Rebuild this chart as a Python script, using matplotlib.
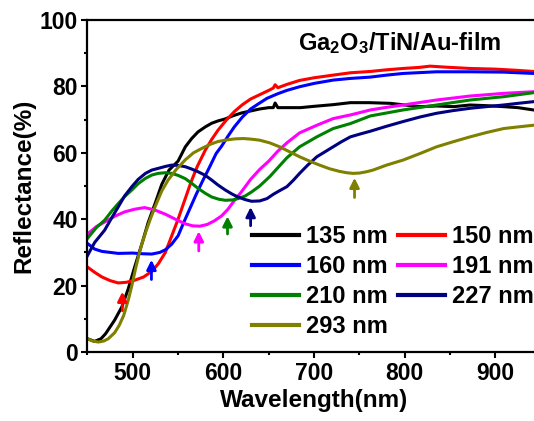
import matplotlib
matplotlib.use("Agg")
import matplotlib.pyplot as plt
from matplotlib.ticker import MultipleLocator

plt.rcParams['font.family'] = ['Liberation Sans', 'DejaVu Sans']
plt.rcParams['font.weight'] = 'bold'
plt.rcParams['mathtext.fontset'] = 'custom'
plt.rcParams['mathtext.rm'] = 'Liberation Sans:bold'
plt.rcParams['mathtext.bf'] = 'Liberation Sans:bold'
plt.rcParams['mathtext.default'] = 'bf'

# Reflectance spectra (wavelength in nm, reflectance in %)
wl_135 = [450, 458, 465, 470, 480, 488, 495, 502, 510, 517, 525, 532, 540, 550, 558, 565, 572, 580, 587, 594, 602, 611, 620, 630, 640, 650, 655, 657, 660, 670, 685, 700, 721, 740, 761, 784, 800, 817, 835, 854, 872, 890, 909, 925, 942, 950]
r_135 = [4, 3.2, 4, 5.5, 9.6, 13.6, 19, 25.5, 32.5, 39, 45, 50.5, 54.8, 57.5, 61.8, 64.3, 66.3, 67.8, 68.9, 69.6, 70.2, 71.2, 72, 72.6, 73.2, 73.6, 73.6, 75, 73.6, 73.6, 73.6, 74, 74.5, 75.1, 75.1, 74.9, 74.4, 73.9, 74.1, 73.9, 74.4, 74.2, 73.9, 73.6, 72.9, 72.9]

wl_150 = [450, 458, 466, 475, 484, 493, 502, 512, 521, 528, 536, 543, 550, 557, 564, 571, 580, 587, 594, 603, 612, 621, 630, 640, 650, 655, 657, 660, 670, 684, 700, 721, 740, 762, 780, 798, 815, 828, 845, 872, 900, 920, 942, 950]
r_150 = [25.6, 24, 22.6, 21.5, 20.8, 21, 21.6, 22.6, 24.3, 26.5, 30, 35, 40, 45.5, 51, 55.8, 60.8, 64, 66.8, 69.8, 72.4, 74.5, 76.2, 77.5, 78.8, 79.5, 80.5, 79.6, 80.6, 81.8, 82.6, 83.4, 84.1, 84.5, 85, 85.4, 85.7, 86.1, 85.8, 85.4, 85.2, 84.9, 84.5, 84.5]

wl_160 = [450, 458, 466, 484, 500, 510, 521, 530, 536, 543, 550, 557, 564, 570, 577, 584, 592, 598, 605, 612, 621, 630, 640, 648, 660, 670, 684, 700, 721, 740, 762, 780, 798, 835, 872, 909, 942, 950]
r_160 = [32.7, 31, 30.3, 29.7, 29.8, 29.6, 29.5, 30, 30.8, 32.5, 35, 39.5, 43.8, 47.5, 51.5, 55.3, 59.8, 62, 65, 67.8, 70.8, 73.2, 75, 76.4, 77.8, 78.8, 79.9, 80.9, 81.9, 82.4, 82.8, 83.4, 83.9, 84.4, 84.4, 84.3, 83.9, 83.9]

wl_191 = [450, 460, 470, 481, 491, 502, 513, 524, 536, 547, 558, 566, 574, 582, 590, 598, 605, 612, 620, 630, 640, 650, 660, 670, 684, 703, 721, 740, 762, 780, 798, 835, 872, 909, 942, 950]
r_191 = [35.5, 37.8, 39.3, 41, 42.2, 43, 43.5, 42.8, 41.5, 40, 38.6, 38, 37.9, 38.4, 39.5, 41, 43, 45.6, 48.3, 52, 55, 57.5, 60.5, 63, 66, 68.3, 70.3, 71.4, 72.9, 73.7, 74.4, 75.9, 77.1, 77.9, 78.4, 78.5]

wl_210 = [450, 460, 469, 477, 484, 491, 499, 506, 514, 521, 528, 536, 543, 550, 558, 565, 572, 580, 587, 595, 602, 610, 616, 624, 631, 640, 651, 660, 670, 684, 703, 721, 740, 762, 780, 798, 835, 872, 909, 942, 950]
r_210 = [34.2, 37.5, 39.7, 42.5, 44.7, 46.8, 48.8, 50.7, 52.3, 53.3, 53.8, 54, 53.8, 53.2, 52.2, 50.8, 49.3, 47.8, 46.7, 46, 45.7, 45.8, 46.2, 47, 48.2, 50, 52.8, 55.5, 58.5, 61.8, 64.8, 67.3, 68.8, 71.1, 72, 72.9, 74.4, 75.9, 76.9, 78.1, 78.2]

wl_227 = [450, 458, 469, 477, 484, 491, 499, 506, 514, 521, 528, 536, 543, 550, 558, 565, 572, 580, 587, 594, 602, 610, 616, 624, 631, 640, 648, 655, 662, 670, 677, 684, 693, 703, 712, 721, 730, 740, 750, 762, 780, 798, 817, 835, 853, 872, 890, 909, 925, 942, 950]
r_227 = [29, 33, 36.7, 40.5, 43.7, 47, 49.8, 52, 53.8, 54.8, 55.3, 55.9, 56.3, 56.2, 55.8, 55.1, 54.3, 53.2, 51.8, 50.3, 48.8, 47.5, 46.7, 45.9, 45.4, 45.5, 46.2, 47.5, 48.6, 49.8, 51.7, 53.8, 56.3, 58.8, 60.3, 61.8, 63.3, 64.8, 65.6, 66.5, 68, 69.4, 70.8, 71.9, 72.7, 73.4, 73.9, 74.4, 74.9, 75.4, 75.5]

wl_293 = [450, 456, 462, 468, 473, 480, 485, 490, 495, 499, 503, 507, 510, 515, 520, 525, 532, 539, 548, 558, 567, 576, 585, 594, 604, 613, 622, 631, 640, 651, 662, 673, 684, 695, 706, 717, 728, 736, 743, 750, 758, 765, 780, 798, 817, 835, 853, 872, 890, 909, 925, 942, 950]
r_293 = [4, 3.3, 3, 3.3, 4, 5.8, 8, 11, 15.6, 20, 25, 29.5, 32.5, 36.7, 40.5, 44, 48.5, 51.8, 55, 57.9, 60, 61.3, 62.5, 63.4, 63.9, 64.2, 64.3, 64.1, 63.8, 63, 61.8, 60.3, 58.8, 57.5, 56.3, 55.2, 54.4, 54, 53.8, 53.9, 54.3, 54.8, 56.3, 57.8, 59.8, 61.8, 63.3, 64.8, 66.1, 67.3, 67.8, 68.3, 68.5]

# reflection minima marked by arrows: wavelength, tail, tip
arrow_wl = [488.5, 520.6, 572.8, 604.5, 630, 744.6]
arrow_tail = [11.6, 21, 29.6, 34.7, 37.2, 45.7]
arrow_tip = [19, 28.6, 37.2, 41.7, 44.5, 53.3]
arrow_colors = ['#FF0000', '#0000FF', '#FF00FF', '#008000', '#000080', '#808000']

labels = ['135 nm', '150 nm', '160 nm', '191 nm', '210 nm', '227 nm', '293 nm']
colors = ['#000000', '#FF0000', '#0000FF', '#FF00FF', '#008000', '#000080', '#808000']
series = [(wl_135, r_135), (wl_150, r_150), (wl_160, r_160), (wl_191, r_191),
          (wl_210, r_210), (wl_227, r_227), (wl_293, r_293)]

fig = plt.figure(figsize=(5.34, 4.21), dpi=100)
ax = fig.add_axes([0.1637, 0.1639, 0.849, 0.7886])

lines = []
for (x, y), c, lab in zip(series, colors, labels):
    ln, = ax.plot(x, y, color=c, lw=2.2, label=lab)
    lines.append(ln)

for w, t0, t1, c in zip(arrow_wl, arrow_tail, arrow_tip, arrow_colors):
    ax.annotate('', xy=(w, t1), xytext=(w, t0),
                arrowprops=dict(arrowstyle='-|>', color=c, lw=2, mutation_scale=14))

ax.set_xlim(450, 950)
ax.set_ylim(0, 100)
ax.xaxis.set_major_locator(MultipleLocator(100))
ax.xaxis.set_minor_locator(MultipleLocator(50))
ax.yaxis.set_major_locator(MultipleLocator(20))
ax.yaxis.set_minor_locator(MultipleLocator(10))
ax.tick_params(which='both', direction='out', width=1.5, labelsize=16.5, pad=3)
ax.tick_params(which='major', length=4)
ax.tick_params(which='minor', length=2.5)
for s in ax.spines.values():
    s.set_linewidth(1.6)

ax.set_xlabel('Wavelength(nm)', fontsize=17.5, fontweight='bold', labelpad=3)
ax.set_ylabel('Reflectance(%)', fontsize=17.5, fontweight='bold', labelpad=3)

fig.text(0.749, 0.898, r'Ga$_{\mathbf{2}}$O$_{\mathbf{3}}$/TiN/Au-film',
         fontsize=17, fontweight='bold', ha='center', va='center')

# row-major legend order
order = [0, 2, 4, 6, 1, 3, 5]
leg = ax.legend([lines[i] for i in order], [labels[i] for i in order], ncol=2,
                frameon=False, fontsize=17, loc='upper left',
                bbox_to_anchor=(252 / 534, 1 - 225 / 421), bbox_transform=fig.transFigure,
                borderpad=0, borderaxespad=0, labelspacing=0.3, handlelength=2.0,
                handletextpad=0.3, columnspacing=0.4)
for l in leg.get_lines():
    l.set_linewidth(3)

fig.savefig('out.png', dpi=100)
